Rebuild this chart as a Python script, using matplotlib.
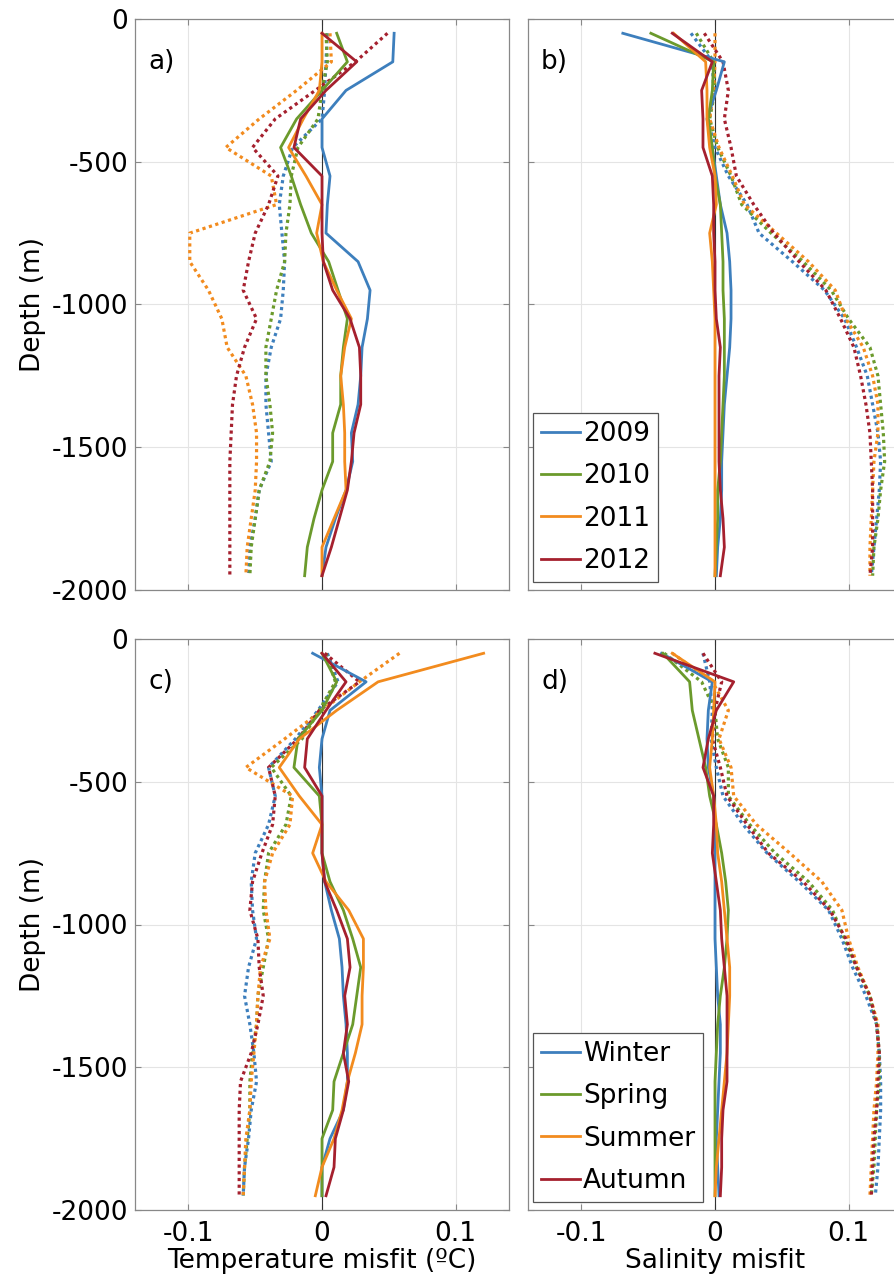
import numpy as np
import matplotlib
matplotlib.use('Agg')
import matplotlib.pyplot as plt
from matplotlib.ticker import FormatStrFormatter
from matplotlib.lines import Line2D

plt.rcParams['font.family'] = ['DejaVu Sans']
plt.rcParams['axes.unicode_minus'] = False

# depth levels (m)
depth = [-50, -150, -250, -350, -450, -550, -650, -750, -850, -950,
         -1050, -1150, -1250, -1350, -1450, -1550, -1650, -1750, -1850, -1950]

years = ['2009', '2010', '2011', '2012']
seasons = ['Winter', 'Spring', 'Summer', 'Autumn']

# a) temperature misfit per year, solid
temp_year_solid = [
    [0.054, 0.053, 0.018, 0.0, 0.0, 0.006, 0.004, 0.003, 0.027, 0.036, 0.034, 0.030, 0.029, 0.027, 0.022, 0.023, 0.018, 0.010, 0.003, 0.0],
    [0.011, 0.019, 0.0, -0.019, -0.031, -0.023, -0.016, -0.008, 0.005, 0.012, 0.019, 0.016, 0.014, 0.014, 0.008, 0.008, 0.0, -0.006, -0.011, -0.013],
    [0.0, 0.0, -0.002, -0.014, -0.025, -0.012, 0.0, -0.004, 0.001, 0.011, 0.022, 0.017, 0.014, 0.016, 0.017, 0.017, 0.018, 0.009, 0.0, 0.0],
    [0.0, 0.026, 0.003, -0.016, -0.021, 0.0, 0.0, 0.0, 0.001, 0.008, 0.021, 0.028, 0.029, 0.029, 0.024, 0.022, 0.019, 0.013, 0.007, 0.0],
]
# a) temperature misfit per year, dotted
temp_year_dotted = [
    [0.004, 0.003, 0.002, 0.0, -0.022, -0.029, -0.032, -0.030, -0.028, -0.029, -0.031, -0.038, -0.042, -0.042, -0.040, -0.038, -0.047, -0.050, -0.054, -0.055],
    [0.003, 0.004, 0.0, -0.003, -0.018, -0.023, -0.024, -0.027, -0.028, -0.034, -0.038, -0.042, -0.042, -0.039, -0.037, -0.039, -0.047, -0.050, -0.053, -0.054],
    [0.006, 0.007, -0.019, -0.047, -0.072, -0.038, -0.034, -0.099, -0.099, -0.085, -0.075, -0.071, -0.057, -0.052, -0.049, -0.049, -0.050, -0.053, -0.056, -0.057],
    [0.049, 0.025, -0.005, -0.035, -0.052, -0.033, -0.040, -0.050, -0.055, -0.059, -0.049, -0.058, -0.064, -0.067, -0.068, -0.069, -0.069, -0.069, -0.069, -0.069],
]

# b) salinity misfit per year
sal_year_solid = [
    [-0.069, 0.007, 0.001, -0.006, -0.002, 0.001, 0.004, 0.009, 0.011, 0.012, 0.012, 0.011, 0.009, 0.007, 0.006, 0.005, 0.005, 0.004, 0.002, 0.001],
    [-0.048, -0.001, -0.002, -0.005, -0.002, 0.0, 0.004, 0.005, 0.006, 0.006, 0.007, 0.007, 0.007, 0.006, 0.005, 0.004, 0.002, 0.002, 0.001, 0.0],
    [-0.031, -0.007, -0.006, -0.006, -0.004, 0.0, 0.001, -0.004, -0.002, -0.001, 0.0, 0.0, 0.0, 0.0, 0.0, 0.0, 0.0, 0.0, 0.0, 0.0],
    [-0.032, -0.002, -0.010, -0.009, -0.009, -0.002, -0.001, -0.001, 0.0, 0.0, 0.001, 0.004, 0.003, 0.003, 0.003, 0.003, 0.004, 0.006, 0.007, 0.004],
]
sal_year_dotted = [
    [-0.018, -0.002, -0.001, -0.005, 0.0, 0.010, 0.024, 0.033, 0.058, 0.082, 0.097, 0.106, 0.114, 0.118, 0.122, 0.124, 0.123, 0.121, 0.119, 0.117],
    [-0.014, -0.001, 0.0, -0.004, 0.002, 0.012, 0.020, 0.042, 0.066, 0.087, 0.100, 0.116, 0.122, 0.124, 0.126, 0.127, 0.124, 0.122, 0.119, 0.118],
    [0.0, 0.0, -0.001, -0.004, 0.003, 0.013, 0.022, 0.046, 0.070, 0.090, 0.098, 0.111, 0.118, 0.122, 0.122, 0.119, 0.118, 0.117, 0.116, 0.116],
    [-0.008, 0.006, 0.010, 0.007, 0.012, 0.016, 0.029, 0.044, 0.063, 0.083, 0.094, 0.104, 0.109, 0.113, 0.116, 0.117, 0.118, 0.118, 0.118, 0.116],
]

# c) temperature misfit per season
temp_season_solid = [
    [-0.007, 0.033, 0.006, 0.0, -0.002, 0.0, 0.0, 0.0, 0.002, 0.007, 0.013, 0.015, 0.016, 0.018, 0.019, 0.019, 0.016, 0.006, 0.0, 0.0],
    [0.0, 0.011, 0.0, -0.018, -0.021, -0.002, 0.0, 0.0, 0.006, 0.016, 0.023, 0.029, 0.026, 0.023, 0.016, 0.009, 0.008, 0.0, 0.0, 0.0],
    [0.121, 0.042, 0.011, -0.017, -0.032, -0.017, 0.0, -0.007, 0.003, 0.020, 0.031, 0.031, 0.030, 0.030, 0.025, 0.019, 0.015, 0.009, 0.0, -0.005],
    [0.0, 0.018, 0.003, -0.011, -0.013, 0.0, 0.0, 0.0, 0.002, 0.011, 0.019, 0.021, 0.017, 0.019, 0.016, 0.020, 0.016, 0.010, 0.009, 0.003],
]
temp_season_dotted = [
    [0.004, 0.012, -0.003, -0.020, -0.040, -0.035, -0.040, -0.050, -0.053, -0.052, -0.049, -0.055, -0.058, -0.054, -0.051, -0.049, -0.053, -0.055, -0.058, -0.059],
    [0.003, 0.010, -0.002, -0.015, -0.038, -0.023, -0.027, -0.040, -0.043, -0.044, -0.040, -0.044, -0.048, -0.049, -0.052, -0.054, -0.054, -0.056, -0.058, -0.059],
    [0.058, 0.028, 0.0, -0.028, -0.057, -0.022, -0.024, -0.037, -0.043, -0.042, -0.039, -0.046, -0.048, -0.049, -0.051, -0.053, -0.054, -0.057, -0.058, -0.059],
    [0.002, 0.028, -0.002, -0.018, -0.040, -0.035, -0.037, -0.045, -0.052, -0.054, -0.048, -0.047, -0.044, -0.048, -0.053, -0.061, -0.062, -0.062, -0.062, -0.062],
]

# d) salinity misfit per season
sal_season_solid = [
    [-0.040, -0.002, -0.005, -0.006, -0.005, -0.001, 0.0, 0.0, 0.0, 0.0, 0.0, 0.001, 0.002, 0.004, 0.004, 0.003, 0.002, 0.001, 0.002, 0.003],
    [-0.039, -0.019, -0.017, -0.012, -0.007, -0.004, 0.001, 0.005, 0.008, 0.010, 0.009, 0.007, 0.004, 0.002, 0.001, 0.0, 0.0, 0.0, 0.0, 0.0],
    [-0.032, 0.0, -0.001, -0.002, -0.004, -0.001, 0.001, 0.002, 0.005, 0.007, 0.009, 0.011, 0.011, 0.010, 0.009, 0.007, 0.005, 0.003, 0.001, 0.0],
    [-0.045, 0.014, 0.001, -0.005, -0.009, -0.001, -0.001, -0.002, 0.001, 0.004, 0.005, 0.007, 0.009, 0.009, 0.009, 0.009, 0.006, 0.005, 0.005, 0.004],
]
sal_season_dotted = [
    [-0.009, -0.004, -0.002, -0.003, 0.001, 0.006, 0.021, 0.039, 0.063, 0.085, 0.095, 0.103, 0.113, 0.121, 0.123, 0.124, 0.124, 0.123, 0.122, 0.120],
    [-0.038, -0.010, 0.0, 0.002, 0.010, 0.010, 0.026, 0.045, 0.070, 0.088, 0.097, 0.106, 0.116, 0.121, 0.123, 0.123, 0.121, 0.120, 0.119, 0.117],
    [-0.032, -0.002, 0.010, 0.003, 0.012, 0.014, 0.031, 0.056, 0.080, 0.095, 0.100, 0.107, 0.116, 0.122, 0.122, 0.121, 0.119, 0.118, 0.117, 0.116],
    [-0.009, 0.005, 0.0, -0.002, 0.004, 0.009, 0.024, 0.040, 0.066, 0.086, 0.098, 0.106, 0.116, 0.121, 0.123, 0.122, 0.121, 0.119, 0.118, 0.117],
]

colors = ['#3d7fbd', '#6b9a2c', '#f28b1e', '#a5202e']
fs = 19

fig = plt.figure(figsize=(8.95, 12.87), dpi=100)
W, H = 895.0, 1287.0
aw, ah = 374 / W, 571 / H
pos = {'a': [135 / W, 1 - 590 / H], 'b': [528 / W, 1 - 590 / H],
       'c': [135 / W, 1 - 1210 / H], 'd': [528 / W, 1 - 1210 / H]}

panels = [
    ('a', temp_year_solid, temp_year_dotted, None),
    ('b', sal_year_solid, sal_year_dotted, years),
    ('c', temp_season_solid, temp_season_dotted, None),
    ('d', sal_season_solid, sal_season_dotted, seasons),
]

for key, solid, dotted, labels in panels:
    ax = fig.add_axes([pos[key][0], pos[key][1], aw, ah])
    ax.grid(True, color='#e4e4e4', lw=0.8)
    ax.set_axisbelow(True)
    ax.axvline(0, color='#333333', lw=0.8, zorder=1)
    for i in range(4):
        ax.plot(dotted[i], depth, color=colors[i], ls=(0, (1, 1.1)), lw=2.3, zorder=2)
    for i in range(4):
        ax.plot(solid[i], depth, color=colors[i], lw=2.0, zorder=3)
    ax.set_xlim(-0.14, 0.14)
    ax.set_ylim(-2000, 0)
    ax.set_xticks([-0.1, 0, 0.1])
    ax.set_yticks([-2000, -1500, -1000, -500, 0])
    ax.xaxis.set_major_formatter(FormatStrFormatter('%g'))
    ax.yaxis.set_major_formatter(FormatStrFormatter('%g'))
    ax.tick_params(direction='in', length=4, width=0.8, color='#888888',
                   top=True, right=True, labelsize=fs, pad=5)
    ax.tick_params(axis='x', pad=8)
    for s in ax.spines.values():
        s.set_color('#888888')
        s.set_linewidth(0.9)
    if key in ('b', 'd'):
        ax.tick_params(labelleft=False)
    else:
        ax.set_ylabel('Depth (m)', fontsize=fs, labelpad=4)
    if key in ('a', 'b'):
        ax.tick_params(labelbottom=False)
    ax.text(0.035, 0.925, key + ')', transform=ax.transAxes, fontsize=fs,
            ha='left', va='center')
    if key == 'c':
        ax.set_xlabel('Temperature misfit (\u00baC)', fontsize=fs, labelpad=1)
    if key == 'd':
        ax.set_xlabel('Salinity misfit', fontsize=fs, labelpad=1)
    if labels is not None:
        handles = [Line2D([], [], color=colors[i], lw=2.0) for i in range(4)]
        leg = ax.legend(handles, labels, loc='lower left', bbox_to_anchor=(0.013, 0.014),
                        borderaxespad=0, fontsize=fs, handlelength=1.5, handletextpad=0.1,
                        labelspacing=0.62, borderpad=0.3, fancybox=False, framealpha=1)
        leg.get_frame().set_edgecolor('#555555')
        leg.get_frame().set_linewidth(0.9)

fig.savefig('out.png', dpi=100)
